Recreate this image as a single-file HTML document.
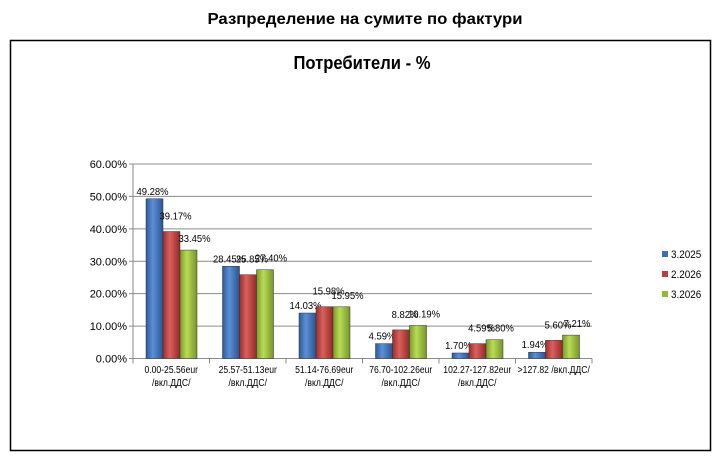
<!DOCTYPE html>
<html><head><meta charset="utf-8">
<style>
html,body{margin:0;padding:0;background:#fff;width:727px;height:462px;overflow:hidden}
svg text{font-family:"Liberation Sans",sans-serif}
</style></head><body>
<svg id="c" width="727" height="462">
<defs>
<linearGradient id="gb" x1="0" x2="1"><stop offset="0" stop-color="#2c5a96"/><stop offset=".4" stop-color="#5b8fd6"/><stop offset="1" stop-color="#2a5590"/></linearGradient>
<linearGradient id="gr" x1="0" x2="1"><stop offset="0" stop-color="#9a2e2c"/><stop offset=".4" stop-color="#d9605d"/><stop offset="1" stop-color="#952a28"/></linearGradient>
<linearGradient id="gg" x1="0" x2="1"><stop offset="0" stop-color="#7a9a2a"/><stop offset=".4" stop-color="#b8dc56"/><stop offset="1" stop-color="#76952a"/></linearGradient>
</defs>
<text x="365" y="24" text-anchor="middle" font-size="16" font-weight="bold" textLength="315" lengthAdjust="spacingAndGlyphs">Разпределение на сумите по фактури</text>
<rect x="10.5" y="40.5" width="700" height="410" fill="none" stroke="#000" stroke-width="1.5"/>
<text x="362" y="69" text-anchor="middle" font-size="18" font-weight="bold" textLength="137" lengthAdjust="spacingAndGlyphs">Потребители - %</text>
<g id="plot"></g>
</svg>
<script>
const categories1=["0.00-25.56eur","25.57-51.13eur","51.14-76.69eur","76.70-102.26eur","102.27-127.82eur",">127.82 /вкл.ДДС/"];
const categories2=["/вкл.ДДС/","/вкл.ДДС/","/вкл.ДДС/","/вкл.ДДС/","/вкл.ДДС/",""];
const seriesNames=["3.2025","2.2026","3.2026"];
const s1=[49.28,28.45,14.03,4.59,1.70,1.94];
const s2=[39.17,25.85,15.98,8.82,4.59,5.60];
const s3=[33.45,27.40,15.95,10.19,5.80,7.21];
const yTicks=[0,10,20,30,40,50,60];
const fills=["url(#gb)","url(#gr)","url(#gg)"];
const legendColors=["#3f6fb0","#b8403d","#94b83a"];
const NS="http://www.w3.org/2000/svg";
const g=document.getElementById('plot');
const x0=133,x1=592,y0=358.5,yTop=164;
const yS=v=>y0-(v/60)*(y0-yTop);
const cw=(x1-x0)/categories1.length;
const xC=i=>x0+cw*i;
function mk(t,a){const e=document.createElementNS(NS,t);for(const k in a)e.setAttribute(k,a[k]);g.appendChild(e);return e;}
function squeeze(t,f){const w=t.getComputedTextLength();if(w>0){t.setAttribute('textLength',(w*f).toFixed(1));t.setAttribute('lengthAdjust','spacingAndGlyphs');}}
yTicks.forEach(v=>{
  const l=mk('line',{x1:x0-4,x2:x1,y1:yS(v),y2:yS(v),stroke:'#8c8c8c','stroke-width':1});
  
  
  const t=mk('text',{x:x0-6,y:yS(v)+4,'text-anchor':'end','font-size':11});
  t.textContent=v.toFixed(2)+'%';
  
  
});
const ax=mk('line',{x1:x0,x2:x0,y1:yTop,y2:y0+4,stroke:'#888'});


for(let i=0;i<=categories1.length;i++){
  const tk=mk('line',{x1:xC(i),x2:xC(i),y1:y0,y2:y0+5,stroke:'#888'});
  
  
}
const series=[s1,s2,s3];
const bw=17;
const lblDx=[-2,4,6],lblDy=[4,12,8];
categories1.forEach((c,i)=>{
  series.forEach((s,j)=>{
    const bx=xC(i)+13+j*bw;
    const r=mk('rect',{x:bx,y:yS(s[i]),width:bw,height:y0-yS(s[i]),fill:fills[j],stroke:'#333','stroke-width':0.5});
    
    
    const t=mk('text',{x:bx+bw/2+lblDx[j],y:yS(s[i])-lblDy[j],'text-anchor':'middle','font-size':10.5});
    t.textContent=s[i].toFixed(2)+'%';
    
    
    squeeze(t,0.9);
  });
  const t1=mk('text',{x:xC(i)+cw/2,y:373,'text-anchor':'middle','font-size':10});
  t1.textContent=c;
  
  
  squeeze(t1,0.86);
  const t2=mk('text',{x:xC(i)+cw/2,y:386,'text-anchor':'middle','font-size':10});
  t2.textContent=categories2[i];
  
  
  squeeze(t2,0.86);
});
seriesNames.forEach((n,j)=>{
  const y=256+j*20;
  const r=mk('rect',{x:662,y:y-5,width:6,height:6,fill:legendColors[j]});
  
  
  const t=mk('text',{x:671,y:y+2,'font-size':11});
  t.textContent=n;
  
  
  squeeze(t,0.9);
});
</script>
</body></html>
